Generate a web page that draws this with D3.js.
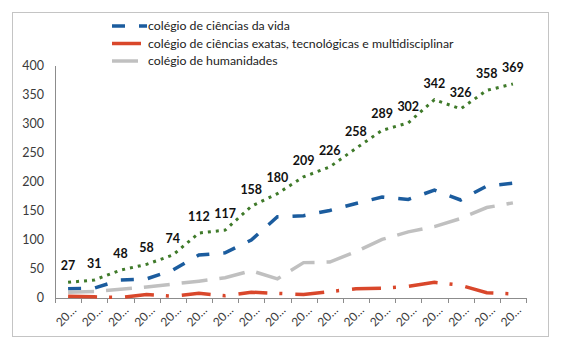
<!DOCTYPE html>
<html>
    <head>
        <meta charset="utf-8">
        <title>colégios</title>
        <script src="https://cdn.jsdelivr.net/npm/d3@7"></script>
        <style>
            body { margin: 0; background: #fff; }
            text { font-family: Lato, "Open Sans", sans-serif; }
        </style>
    </head>
    <body>
        <script>
            const width = 567;
            const height = 348;

            // rótulos do eixo x (truncados no original)
            const xLabels = ["20…","20…","20…","20…","20…","20…","20…","20…","20…",
                             "20…","20…","20…","20…","20…","20…","20…","20…","20…"];
            const yTicks = [0, 50, 100, 150, 200, 250, 300, 350, 400];

            const total = [27, 31, 48, 58, 74, 112, 117, 158, 180, 209, 226, 258, 289, 302, 342, 326, 358, 369];
            const vida = [16, 17, 31, 33, 48, 74, 78, 100, 140, 142, 151, 163, 174, 170, 186, 169, 193, 198];
            const exatas = [3, 2, 1, 6, 3, 8, 4, 10, 8, 6, 11, 16, 17, 20, 27, 22, 9, 7];
            const humanidades = [10, 11, 15, 19, 24, 29, 35, 47, 33, 61, 62, 80, 101, 114, 123, 137, 156, 164];

            const seriesNames = [
                "colégio de ciências da vida",
                "colégio de ciências exatas, tecnológicas e multidisciplinar",
                "colégio de humanidades"
            ];

            const series = [
                { name: seriesNames[0], values: vida, color: "#1b5c9e", dash: "13,14", w: 3.5 },
                { name: seriesNames[1], values: exatas, color: "#d9472b", dash: "29,12,3,13", w: 3.5 },
                { name: seriesNames[2], values: humanidades, color: "#c0c0c0", dash: "26,12", w: 3.5 },
                { name: null, values: total, color: "#3f7a2a", dash: "3,5", w: 3 }
            ];

            const svg = d3.select("body").append("svg")
                .attr("width", width)
                .attr("height", height)
            ;

            // moldura
            svg.append("rect")
                .attr("x", 12.5).attr("y", 12.5)
                .attr("width", 536).attr("height", 324)
                .attr("fill", "#fff")
                .attr("stroke", "#c4c4c4")
            ;

            const x = d3.scaleBand()
                .domain(d3.range(xLabels.length))
                .range([55, 526])
            ;
            const y = d3.scaleLinear()
                .domain([0, 400])
                .range([298, 66])
            ;
            const cx = i => x(i) + x.bandwidth() / 2;

            // eixo y
            svg.append("line")
                .attr("x1", 55.5).attr("x2", 55.5)
                .attr("y1", y(400)).attr("y2", y(0))
                .attr("stroke", "#8c8c8c")
            ;
            svg.selectAll("text.ytick")
                .data(yTicks).join("text")
                .attr("class", "ytick")
                .attr("x", 44)
                .attr("y", d => y(d))
                .attr("dy", "0.35em")
                .attr("text-anchor", "end")
                .attr("font-size", 12.5)
                .attr("fill", "#3a3a3a")
                .text(d => d)
            ;

            // eixo x
            svg.append("line")
                .attr("x1", 55).attr("x2", 526)
                .attr("y1", y(0) + 0.5).attr("y2", y(0) + 0.5)
                .attr("stroke", "#8c8c8c")
            ;
            const bounds = d3.range(xLabels.length).map(i => x(i)).concat([x.range()[1]]);
            svg.selectAll("line.xtick")
                .data(bounds).join("line")
                .attr("class", "xtick")
                .attr("x1", d => Math.round(d) + 0.5)
                .attr("x2", d => Math.round(d) + 0.5)
                .attr("y1", y(0))
                .attr("y2", y(0) + 5)
                .attr("stroke", "#8c8c8c")
            ;
            svg.selectAll("text.xtick")
                .data(xLabels).join("text")
                .attr("class", "xtick")
                .attr("transform", (d, i) => `translate(${cx(i) + 9},${y(0) + 13}) rotate(-45)`)
                .attr("text-anchor", "end")
                .attr("font-size", 12)
                .attr("fill", "#3a3a3a")
                .text(d => d)
            ;

            // linhas
            const line = d3.line()
                .x((d, i) => cx(i))
                .y(d => y(d))
            ;
            svg.selectAll("path.serie")
                .data(series).join("path")
                .attr("class", "serie")
                .attr("d", d => line(d.values))
                .attr("fill", "none")
                .attr("stroke", d => d.color)
                .attr("stroke-width", d => d.w)
                .attr("stroke-dasharray", d => d.dash)
            ;

            // rótulos de dados
            svg.selectAll("text.lbl")
                .data(total).join("text")
                .attr("class", "lbl")
                .attr("x", (d, i) => cx(i))
                .attr("y", d => y(d) - 12)
                .attr("text-anchor", "middle")
                .attr("font-size", 12.5)
                .attr("font-weight", "bold")
                .attr("fill", "#111")
                .text(d => d)
            ;

            // legenda
            const leg = svg.selectAll("g.leg")
                .data(series.filter(s => s.name)).join("g")
                .attr("class", "leg")
                .attr("transform", (d, i) => `translate(112,${26 + i * 17.5})`)
            ;
            leg.append("line")
                .attr("x1", 0).attr("x2", 35)
                .attr("stroke", d => d.color)
                .attr("stroke-width", d => d.w)
                .attr("stroke-dasharray", d => d.dash)
            ;
            leg.append("text")
                .attr("x", 36)
                .attr("dy", "0.35em")
                .attr("font-size", 12.3)
                .attr("fill", "#222")
                .text(d => d.name)
            ;
        </script>
    </body>
</html>
